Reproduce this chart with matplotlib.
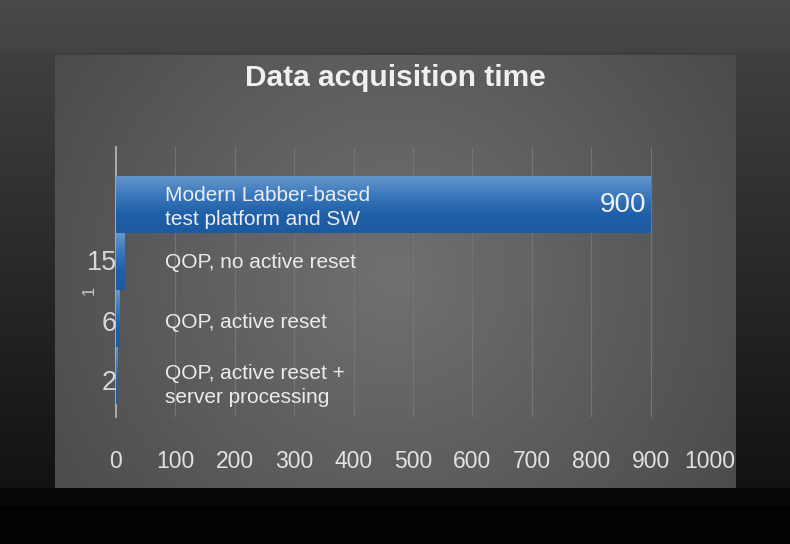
import numpy as np
import matplotlib.pyplot as plt
from matplotlib.colors import LinearSegmentedColormap

plt.rcParams['font.family'] = ['Liberation Sans', 'DejaVu Sans']

# chart data
categories = ['Modern Labber-based\ntest platform and SW',
              'QOP, no active reset',
              'QOP, active reset',
              'QOP, active reset +\nserver processing']
times = [900, 15, 6, 2]
xticks = [0, 100, 200, 300, 400, 500, 600, 700, 800, 900, 1000]

W, H = 790, 544
fig = plt.figure(figsize=(W / 100, H / 100), dpi=100)

# background: dark frame + grey panel with radial shading
yy, xx = np.mgrid[0:H, 0:W]
bg = 0.25 - 0.18 * np.clip((yy - 50) / 437, 0, 1)
bg[yy < 52] = 0.285 - 0.02 * yy[yy < 52] / 52
panel = (xx >= 55) & (xx <= 735) & (yy >= 55) & (yy <= 487)
r = np.hypot(xx - 392, yy - 275)
bg[panel] = (0.44 - 0.15 * np.clip(r / 420, 0, 1))[panel]
bg[yy > 487] = 0.03
bg[yy > 505] = 0.01
bg_ax = fig.add_axes([0, 0, 1, 1])
bg_ax.imshow(np.dstack([bg, bg, bg]), aspect='auto', interpolation='bilinear')
bg_ax.axis('off')

fig.text(395 / W, 1 - 78 / H, 'Data acquisition time', ha='center', va='center',
         fontsize=21.5, fontweight='bold', color='#f0f0f0')

ax = fig.add_axes([116 / W, 1 - 417 / H, 594 / W, 270 / H])
ax.set_facecolor('none')

blue = LinearSegmentedColormap.from_list('b', ['#6496cc', '#3b78bc', '#2060a8', '#1c5aa2'])
grad = np.linspace(0, 1, 64).reshape(-1, 1)
for i, v in enumerate(times):
    ax.imshow(grad, cmap=blue, aspect='auto', extent=(0, v, i + 0.5, i - 0.5),
              interpolation='bilinear', zorder=2)

ax.set_xlim(0, 1000)
ax.set_ylim(3.73, -1.01)

# category names inside the plot
label_dy = [0.05, 0.02, 0.07, 0.18]
for i, lab in enumerate(categories):
    ax.text(49 / 594, i + label_dy[i], lab, transform=ax.get_yaxis_transform(),
            fontsize=15, color='#ececec', va='center', ha='left', zorder=3,
            linespacing=1.3)

# value labels
ax.text(times[0] - 8, 0, str(times[0]), fontsize=20, color='#f0f0f0',
        ha='right', va='center', zorder=3)
val_dy = [0, 0.02, 0.1, 0.13]
for i, v in enumerate(times[1:], start=1):
    ax.text(2, i + val_dy[i], str(v), fontsize=19.5, color='#d8d8d8',
            ha='right', va='center', zorder=3)
ax.text(-45, 1.5, '1', fontsize=12, color='#c8c8c8', rotation=90,
        ha='center', va='center')

ax.set_xticks(xticks)
ax.set_xticklabels([str(t) for t in xticks], fontsize=16.5, color='#e2e2e2')
ax.set_yticks([])
ax.tick_params(axis='x', length=0, pad=24)
ax.grid(axis='x', color='#747474', linewidth=0.9)
ax.set_axisbelow(True)
for s in ['top', 'right', 'bottom']:
    ax.spines[s].set_visible(False)
ax.spines['left'].set_color('#b0b0b0')
ax.spines['left'].set_linewidth(1.3)
ax.spines['left'].set_zorder(1)

plt.savefig('out.png', dpi=100)
